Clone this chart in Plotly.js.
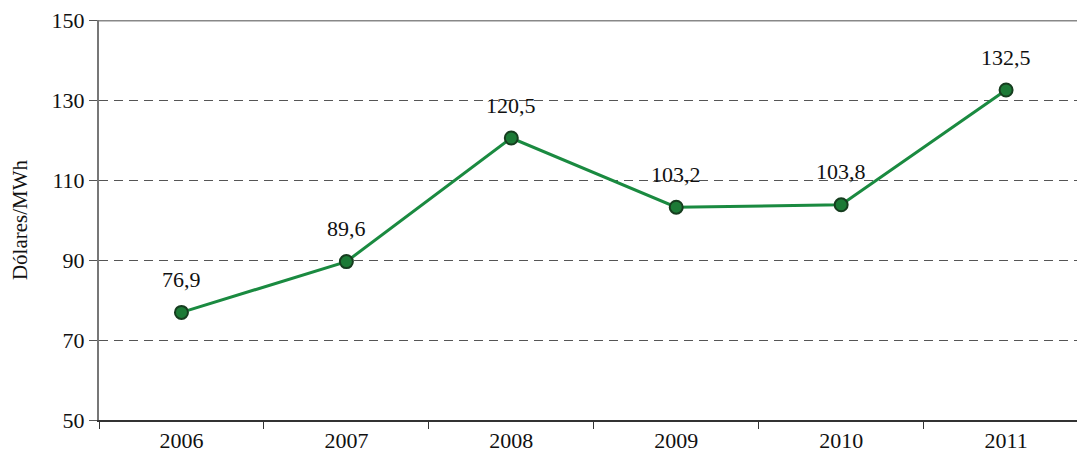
<!DOCTYPE html>
<html>
<head>
<meta charset="utf-8">
<script src="https://cdn.plot.ly/plotly-3.0.1.min.js"></script>
<style>html,body{margin:0;padding:0;background:#fff;}#chart{width:1077px;height:468px;}</style>
</head>
<body>
<div id="chart"></div>
<script>
const years = ["2006", "2007", "2008", "2009", "2010", "2011"];
const prices = [76.9, 89.6, 120.5, 103.2, 103.8, 132.5];
const priceLabels = ["76,9", "89,6", "120,5", "103,2", "103,8", "132,5"];
const yTicks = [50, 70, 90, 110, 130, 150];

const font = '"Liberation Serif", "Times New Roman", serif';

const trace = {
  x: years,
  y: prices,
  type: "scatter",
  mode: "lines+markers",
  line: {color: "#1a8a40", width: 3},
  marker: {size: 13, color: "#1c7a36", line: {color: "#163d1f", width: 2}},
  hoverinfo: "skip",
  cliponaxis: false
};

const annotations = years.map(function (yr, i) {
  return {
    xref: "x", yref: "y",
    x: i, y: prices[i], text: priceLabels[i],
    showarrow: false, yshift: 33,
    xanchor: "center", yanchor: "middle",
    font: {family: font, size: 22, color: "#111"}
  };
});

const layout = {
  width: 1077, height: 468,
  margin: {l: 99, r: 0, t: 20, b: 48},
  paper_bgcolor: "#fff", plot_bgcolor: "#fff",
  showlegend: false,
  font: {family: font, size: 22, color: "#111"},
  xaxis: {
    type: "category",
    range: [-0.5, 5.43],
    showgrid: false,
    zeroline: false,
    showline: true, linecolor: "#333", linewidth: 2,
    ticks: "outside", tickson: "boundaries", ticklen: 7, tickcolor: "#333", tickwidth: 1,
    tickfont: {family: font, size: 22, color: "#111"},
    fixedrange: true
  },
  yaxis: {
    range: [50, 150],
    tickvals: yTicks,
    showgrid: true, gridcolor: "#555", gridwidth: 1, griddash: "9px,6px",
    zeroline: false,
    showline: true, linecolor: "#777", linewidth: 2,
    ticks: "outside", ticklen: 8, tickcolor: "#555", tickwidth: 1,
    tickfont: {family: font, size: 22, color: "#111"},
    title: {text: "Dólares/MWh", font: {family: font, size: 21, color: "#111"}, standoff: 18},
    fixedrange: true
  },
  shapes: [{
    type: "line", xref: "paper", yref: "y", x0: 0, x1: 1, y0: 150, y1: 150,
    line: {color: "#888", width: 3}
  }],
  annotations: annotations
};

try {
  Plotly.newPlot("chart", [trace], layout, {displayModeBar: false, staticPlot: true});
} catch (e) {
  document.body.insertAdjacentHTML("beforeend", "<pre>" + e + "</pre>");
}
</script>
</body>
</html>
